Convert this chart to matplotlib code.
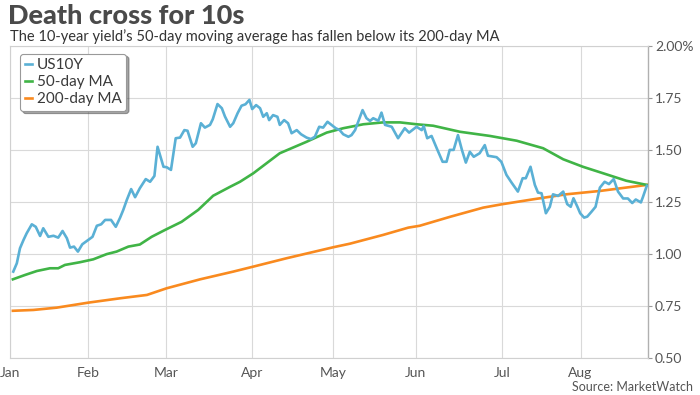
import matplotlib
matplotlib.use("Agg")
import matplotlib.pyplot as plt

plt.rcParams['font.family'] = ['Lato', 'DejaVu Sans']

# x = trading-day index (0 = first trading day of January)
us10y_x = [0.3, 1.2, 2.0, 2.9, 3.7, 5.0, 6.0, 7.1, 7.9, 9.2, 10.5, 11.7, 12.8, 13.9, 14.7,
           15.7, 16.7, 17.8, 19.3, 20.4, 21.5, 22.6, 23.6, 25.1, 26.3, 27.4, 28.2, 29.1,
           30.2, 31.2, 32.4, 33.9, 35.0, 36.1, 36.9, 38.4, 39.2, 40.3, 41.5, 42.6, 43.7,
           44.5, 45.8, 46.6, 47.9, 48.9, 50.2, 50.9, 52.1, 53.2, 54.0, 55.3, 56.1, 57.2,
           58.2, 59.2, 60.2, 60.9, 61.9, 62.9, 63.7, 64.6, 65.2, 66.2, 67.3, 67.9, 69.0,
           70.0, 70.9, 72.2, 73.3, 74.7, 75.8, 76.8, 77.9, 78.9, 80.0, 81.0, 82.1, 83.1,
           84.0, 85.3, 86.1, 87.0, 88.9, 89.9, 90.8, 91.6, 92.9, 93.7, 94.6, 96.3, 97.9,
           99.6, 100.7, 102.6, 103.9, 104.4, 105.3, 106.4, 107.8, 109.2, 110.2, 111.0,
           112.0, 113.1, 114.1, 115.1, 116.1, 117.1, 118.6, 119.9, 120.7, 122.9, 124.1,
           125.4, 126.7, 128.3, 129.5, 130.3, 131.5, 132.6, 133.4, 134.3, 135.4, 136.4,
           137.2, 138.5, 139.8, 140.8, 141.7, 142.4, 143.4, 144.1, 145.1, 145.9, 147.0,
           148.0, 149.1, 150.3, 151.4, 152.6, 153.7, 155.0, 156.2, 157.3, 158.2, 159.5,
           160.0, 161.0]
us10y = [0.916, 0.956, 1.028, 1.068, 1.100, 1.143, 1.131, 1.087, 1.124, 1.083, 1.088, 1.079,
         1.111, 1.076, 1.031, 1.036, 1.012, 1.047, 1.068, 1.083, 1.136, 1.143, 1.164, 1.164,
         1.131, 1.175, 1.212, 1.260, 1.312, 1.273, 1.316, 1.360, 1.347, 1.375, 1.515, 1.419,
         1.417, 1.404, 1.556, 1.559, 1.595, 1.592, 1.515, 1.532, 1.628, 1.607, 1.620, 1.647,
         1.720, 1.700, 1.660, 1.611, 1.628, 1.676, 1.712, 1.719, 1.740, 1.696, 1.715, 1.700,
         1.659, 1.676, 1.643, 1.667, 1.659, 1.620, 1.643, 1.628, 1.580, 1.595, 1.575, 1.559,
         1.552, 1.563, 1.611, 1.607, 1.635, 1.620, 1.604, 1.595, 1.575, 1.563, 1.571, 1.595,
         1.691, 1.652, 1.639, 1.652, 1.640, 1.679, 1.620, 1.611, 1.556, 1.604, 1.583, 1.611,
         1.595, 1.615, 1.556, 1.567, 1.504, 1.443, 1.443, 1.500, 1.500, 1.571, 1.500, 1.439,
         1.491, 1.467, 1.484, 1.523, 1.472, 1.465, 1.443, 1.380, 1.343, 1.300, 1.364, 1.364,
         1.419, 1.332, 1.295, 1.292, 1.196, 1.227, 1.287, 1.279, 1.300, 1.240, 1.227, 1.268,
         1.227, 1.196, 1.175, 1.180, 1.204, 1.227, 1.319, 1.347, 1.336, 1.360, 1.300, 1.267,
         1.267, 1.245, 1.262, 1.248, 1.273, 1.328]

ma50_x = [0.2, 3.3, 6.3, 9.6, 11.7, 13.4, 17.2, 20.6, 24.0, 26.5, 29.5, 32.4, 35.4, 38.8,
          43.0, 47.2, 51.0, 55.3, 57.8, 61.2, 67.9, 74.7, 79.8, 84.0, 89.1, 94.1, 98.4,
          102.6, 106.8, 113.6, 121.2, 128.0, 134.7, 139.8, 144.8, 149.9, 155.8, 161.0]
ma50 = [0.879, 0.900, 0.919, 0.932, 0.932, 0.948, 0.961, 0.975, 1.000, 1.012, 1.036, 1.046,
        1.083, 1.116, 1.155, 1.212, 1.280, 1.323, 1.347, 1.388, 1.484, 1.539, 1.583, 1.604,
        1.623, 1.632, 1.632, 1.623, 1.616, 1.587, 1.567, 1.544, 1.508, 1.455, 1.419, 1.388,
        1.352, 1.332]

ma200_x = [0.2, 5.4, 11.3, 19.3, 27.4, 34.2, 39.2, 47.7, 56.1, 61.2, 69.6, 81.5, 85.7,
           94.1, 100.5, 103.4, 111.1, 119.5, 124.2, 132.2, 140.6, 149.1, 161.0]
ma200 = [0.728, 0.732, 0.743, 0.767, 0.788, 0.804, 0.836, 0.879, 0.916, 0.940, 0.980, 1.033,
         1.050, 1.092, 1.127, 1.136, 1.179, 1.223, 1.239, 1.263, 1.287, 1.303, 1.332]

month_labels = ['Jan', 'Feb', 'Mar', 'Apr', 'May', 'Jun', 'Jul', 'Aug']
month_pos = [-0.5, 19.3, 39.0, 60.9, 81.5, 102.4, 124.2, 144.2]
y_ticks = [0.50, 0.75, 1.00, 1.25, 1.50, 1.75, 2.00]
y_labels = ['0.50', '0.75', '1.00', '1.25', '1.50', '1.75', '2.00%']

BLUE = '#5ab0d5'
GREEN = '#40b446'
ORANGE = '#f98a1f'
TXT = '#555555'

fig = plt.figure(figsize=(7, 3.95), dpi=100)
ax = fig.add_axes([0.0139, 0.0929, 0.9118, 0.7914])

ax.plot(ma200_x, ma200, color=ORANGE, lw=1.9, label='200-day MA', zorder=3)
ax.plot(ma50_x, ma50, color=GREEN, lw=1.9, label='50-day MA', zorder=3)
ax.plot(us10y_x, us10y, color=BLUE, lw=1.9, label='US10Y', zorder=4)

ax.set_xlim(-0.6, 161.3)
ax.set_ylim(0.5, 2.0)
ax.set_xticks(month_pos)
ax.set_xticklabels(month_labels)
ax.set_yticks(y_ticks)
ax.set_yticklabels(y_labels)
ax.yaxis.tick_right()
ax.tick_params(axis='y', length=3, color='#999999', labelsize=10, labelcolor=TXT, pad=2)
ax.tick_params(axis='x', length=0, labelsize=10, labelcolor=TXT, pad=6)
ax.grid(True, color='#d9d9d9', lw=0.8)
ax.set_axisbelow(True)
for s in ['left', 'bottom', 'top']:
    ax.spines[s].set_color('#d0d0d0')
    ax.spines[s].set_linewidth(0.8)
ax.spines['right'].set_color('#b0b0b0')
ax.spines['right'].set_linewidth(1.0)

handles, labels = ax.get_legend_handles_labels()
order = [2, 1, 0]
leg = ax.legend([handles[i] for i in order], [labels[i] for i in order],
                loc='upper left', bbox_to_anchor=(0.016, 0.975), borderaxespad=0,
                fontsize=11, handlelength=0.5, handletextpad=0.3, labelspacing=0.2,
                borderpad=0.3, frameon=True, fancybox=True, shadow=True,
                edgecolor='#999999')
leg.get_frame().set_linewidth(0.8)
for t in leg.get_texts():
    t.set_color('#3a3a3a')

fig.text(0.012, 0.99, 'Death cross for 10s', fontsize=19.5, fontweight='black',
         color='#4a4a4a', va='top', ha='left')
fig.text(0.014, 0.895, 'The 10-year yield\u2019s 50-day moving average has fallen below its 200-day MA',
         fontsize=10.5, color='#333333', va='baseline', ha='left')
fig.text(0.99, 0.006, 'Source: MarketWatch', fontsize=9, color=TXT, ha='right', va='bottom')

fig.savefig('out.png', dpi=100)
